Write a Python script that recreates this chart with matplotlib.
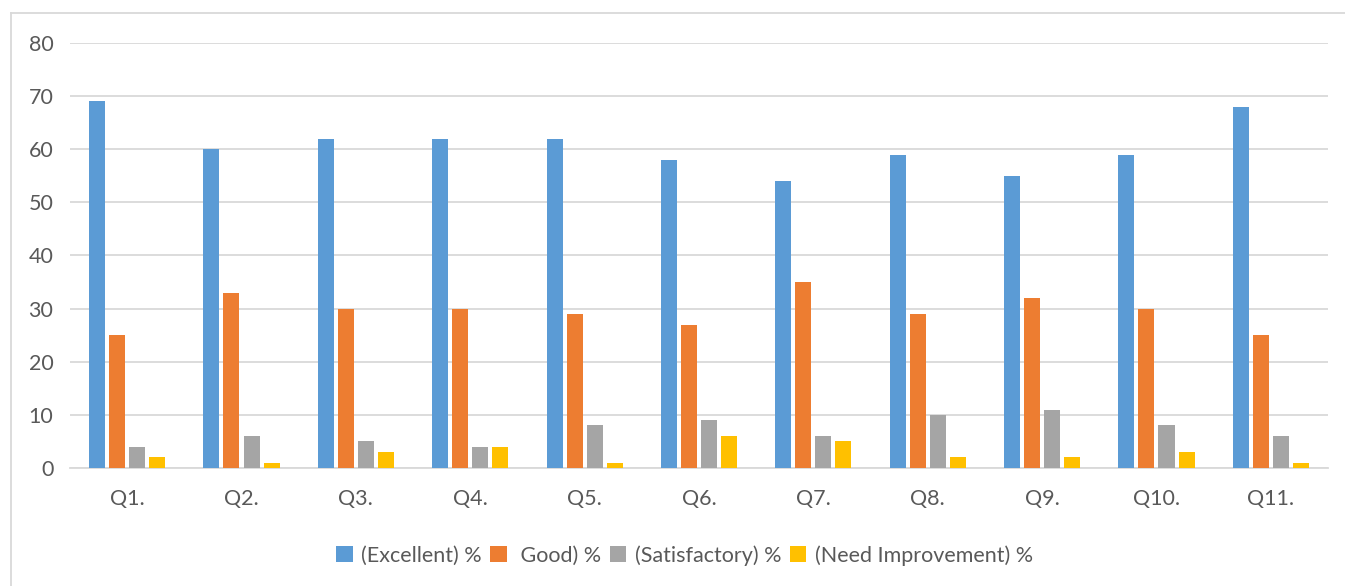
import matplotlib

matplotlib.use("Agg")

import matplotlib.pyplot as plt
import numpy as np
from matplotlib.lines import Line2D

plt.rcParams['font.family'] = ['Lato', 'DejaVu Sans']

questions = ["Q1.", "Q2.", "Q3.", "Q4.", "Q5.", "Q6.", "Q7.", "Q8.", "Q9.", "Q10.", "Q11."]
excellent = [69, 60, 62, 62, 62, 58, 54, 59, 55, 59, 68]
good = [25, 33, 30, 30, 29, 27, 35, 29, 32, 30, 25]
satisfactory = [4, 6, 5, 4, 8, 9, 6, 10, 11, 8, 6]
need_improvement = [2, 1, 3, 4, 1, 6, 5, 2, 2, 3, 1]

series_names = ["(Excellent) %", " Good) %", "(Satisfactory) %", "(Need Improvement) %"]
colors = ["#5B9BD5", "#ED7D31", "#A5A5A5", "#FFC000"]

fig = plt.figure(figsize=(13.45, 5.86), dpi=100)
ax = fig.add_axes([0.052, 0.2014, 0.9354, 0.7253])

x = np.arange(len(questions))
bw = 0.14
step = 0.175
series = [excellent, good, satisfactory, need_improvement]
for i, (vals, name, c) in enumerate(zip(series, series_names, colors)):
    ax.bar(x + (i - 1.5) * step, vals, width=bw, color=c, label=name, zorder=3)

ax.set_xlim(-0.5, len(questions) - 0.5)
ax.set_ylim(0, 80)
ax.set_yticks(range(0, 81, 10))
ax.set_xticks(x)
ax.set_xticklabels(questions)
ax.grid(axis="y", color="#D9D9D9", linewidth=1.3, zorder=0)
ax.tick_params(axis="both", length=0, labelsize=15.5, colors="#595959")
ax.tick_params(axis="x", pad=15)
ax.tick_params(axis="y", pad=12)
for s in ["top", "right", "left"]:
    ax.spines[s].set_visible(False)
ax.spines["bottom"].set_color("#D9D9D9")
ax.spines["bottom"].set_linewidth(1.3)

leg = fig.legend(loc="center", bbox_to_anchor=(0.509, 0.052), ncol=4, frameon=False,
                 fontsize=15.5, handlelength=0.75, handleheight=0.75, handletextpad=0.4,
                 columnspacing=0.4)
for t in leg.get_texts():
    t.set_color("#595959")

# chart area border (left and top edges)
fig.add_artist(Line2D([11 / 1345, 11 / 1345], [0, 1 - 13 / 586], transform=fig.transFigure,
                      color="#D9D9D9", linewidth=1.3))
fig.add_artist(Line2D([11 / 1345, 1], [1 - 13 / 586, 1 - 13 / 586], transform=fig.transFigure,
                      color="#D9D9D9", linewidth=1.3))

fig.savefig("out.png", dpi=100)
